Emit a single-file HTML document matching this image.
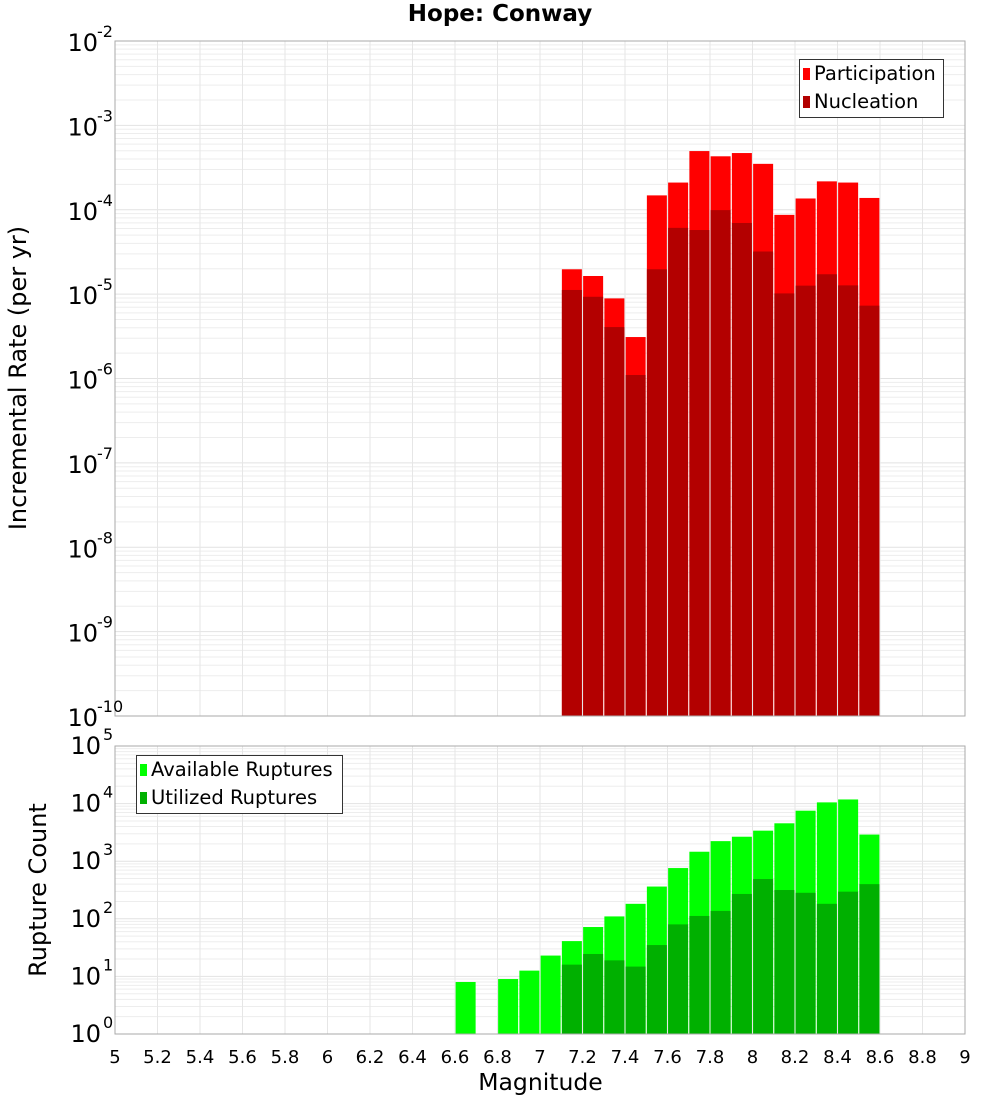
<!DOCTYPE html>
<html><head><meta charset="utf-8"><style>
body{margin:0;background:#fff;}
svg{display:block;font-family:"DejaVu Sans","Liberation Sans",sans-serif;}
</style></head><body>
<svg id="c" width="1000" height="1100"></svg>
<script>
const topBins=[7.15,7.25,7.35,7.45,7.55,7.65,7.75,7.85,7.95,8.05,8.15,8.25,8.35,8.45,8.55];
const participation=[1.97e-5,1.64e-5,8.9e-6,3.1e-6,1.48e-4,2.1e-4,4.96e-4,4.3e-4,4.7e-4,3.5e-4,8.7e-5,1.36e-4,2.17e-4,2.1e-4,1.38e-4];
const nucleation=[1.12e-5,9.3e-6,4.07e-6,1.1e-6,1.97e-5,6.1e-5,5.75e-5,9.9e-5,6.97e-5,3.2e-5,1.02e-5,1.26e-5,1.72e-5,1.27e-5,7.3e-6];
const availBins=[6.65,6.85,6.95,7.05,7.15,7.25,7.35,7.45,7.55,7.65,7.75,7.85,7.95,8.05,8.15,8.25,8.35,8.45,8.55];
const available=[8,9,12.6,23,41,72,110,182,363,760,1460,2230,2660,3390,4550,7530,10500,11800,2900];
const utilBins=[7.15,7.25,7.35,7.45,7.55,7.65,7.75,7.85,7.95,8.05,8.15,8.25,8.35,8.45,8.55];
const utilized=[16,24.5,19,14.8,35,80,112,137,270,490,316,283,182,296,400];
const xTicks=[5,5.2,5.4,5.6,5.8,6,6.2,6.4,6.6,6.8,7,7.2,7.4,7.6,7.8,8,8.2,8.4,8.6,8.8,9];
const topExps=[-2,-3,-4,-5,-6,-7,-8,-9,-10];
const botExps=[5,4,3,2,1,0];

const NS="http://www.w3.org/2000/svg";
const svg=document.getElementById('c');
function el(t,a,p){const e=document.createElementNS(NS,t);for(const k in a)e.setAttribute(k,a[k]);(p||svg).appendChild(e);return e;}
const X0=115,X1=965;
const xs=v=>X0+(v-5)/4*(X1-X0);
const T0=41,T1=716, yTop=v=>T0+(-2-Math.log10(v))/8*(T1-T0);
const B0=746,B1=1034, yBot=v=>B0+(5-Math.log10(v))/5*(B1-B0);

function grid(y0,y1,yf,emin,emax,g){
  for(let e=emin;e<emax;e++)for(let m=1;m<10;m++){const y=yf(m*Math.pow(10,e));
    el('line',{x1:X0,x2:X1,y1:y,y2:y,stroke:m==1?'#e2e2e2':'#ededed','stroke-width':1},g);}
  xTicks.forEach(t=>{const x=xs(t);el('line',{x1:x,x2:x,y1:y0,y2:y1,stroke:'#e6e6e6','stroke-width':1},g);});
}
const gt=el('g',{});
grid(T0,T1,yTop,-10,-2,gt);
const bw=20;
topBins.forEach((b,i)=>{
  const r=el('rect',{x:xs(b)-bw/2,y:yTop(participation[i]),width:bw,height:T1-yTop(participation[i]),fill:'#ff0000'},gt);
  
  
  const n=el('rect',{x:xs(b)-bw/2,y:yTop(nucleation[i]),width:bw,height:T1-yTop(nucleation[i]),fill:'#b30000'},gt);
  
  
});
el('rect',{x:X0,y:T0,width:X1-X0,height:T1-T0,fill:'none',stroke:'#aaa'},gt);
topExps.forEach(e=>{const y=yTop(Math.pow(10,e));
  const t=el('text',{x:98,y:y+10,'text-anchor':'end','font-size':24},gt);t.textContent='10';
  
  const s=el('text',{x:97,y:y-4,'font-size':16},gt);s.textContent=e;
  
});
const gb=el('g',{});
grid(B0,B1,yBot,0,5,gb);
availBins.forEach((b,i)=>{
  const r=el('rect',{x:xs(b)-bw/2,y:yBot(available[i]),width:bw,height:B1-yBot(available[i]),fill:'#00ff00'},gb);
  
  
});
utilBins.forEach((b,i)=>{
  const r=el('rect',{x:xs(b)-bw/2,y:yBot(utilized[i]),width:bw,height:B1-yBot(utilized[i]),fill:'#00b000'},gb);
  
  
});
el('rect',{x:X0,y:B0,width:X1-X0,height:B1-B0,fill:'none',stroke:'#aaa'},gb);
botExps.forEach(e=>{const y=yBot(Math.pow(10,e));
  const t=el('text',{x:101,y:y+8,'text-anchor':'end','font-size':24},gb);t.textContent='10';
  
  const s=el('text',{x:103,y:y-6,'font-size':16},gb);s.textContent=e;
  
});
xTicks.forEach(t=>{const x=xs(t);
  const l=el('text',{x:x,y:1063,'text-anchor':'middle','font-size':18},gb);l.textContent=String(t);
  
});
</script>
<div style="position:absolute;left:0;top:0;width:1000px;height:1100px;pointer-events:none;font-family:'DejaVu Sans','Liberation Sans',sans-serif;">
  <div style="position:absolute;left:0;width:1000px;top:1px;text-align:center;font-weight:bold;font-size:23px;">Hope: Conway</div>
  <div style="position:absolute;left:18px;top:378px;transform:translate(-50%,-50%) rotate(-90deg);white-space:nowrap;font-size:24px;">Incremental Rate (per yr)</div>
  <div style="position:absolute;left:38px;top:890px;transform:translate(-50%,-50%) rotate(-90deg);white-space:nowrap;font-size:24px;">Rupture Count</div>
  <div style="position:absolute;left:0;width:1081px;top:1068px;text-align:center;font-size:23.5px;">Magnitude</div>
  <div style="position:absolute;left:799px;top:59px;width:143px;height:57px;border:1px solid #333;background:#fff;font-size:19.5px;line-height:28px;">
    <div style="padding-left:3px;"><span style="display:inline-block;width:7px;height:12px;background:#f00;margin-right:4px;"></span>Participation</div>
    <div style="padding-left:3px;"><span style="display:inline-block;width:7px;height:12px;background:#b30000;margin-right:4px;"></span>Nucleation</div>
  </div>
  <div style="position:absolute;left:136px;top:755px;width:205px;height:57px;border:1px solid #333;background:#fff;font-size:19.5px;line-height:28px;">
    <div style="padding-left:3px;"><span style="display:inline-block;width:7px;height:12px;background:#0f0;margin-right:4px;"></span>Available Ruptures</div>
    <div style="padding-left:3px;"><span style="display:inline-block;width:7px;height:12px;background:#00b000;margin-right:4px;"></span>Utilized Ruptures</div>
  </div>
</div>
</body></html>
